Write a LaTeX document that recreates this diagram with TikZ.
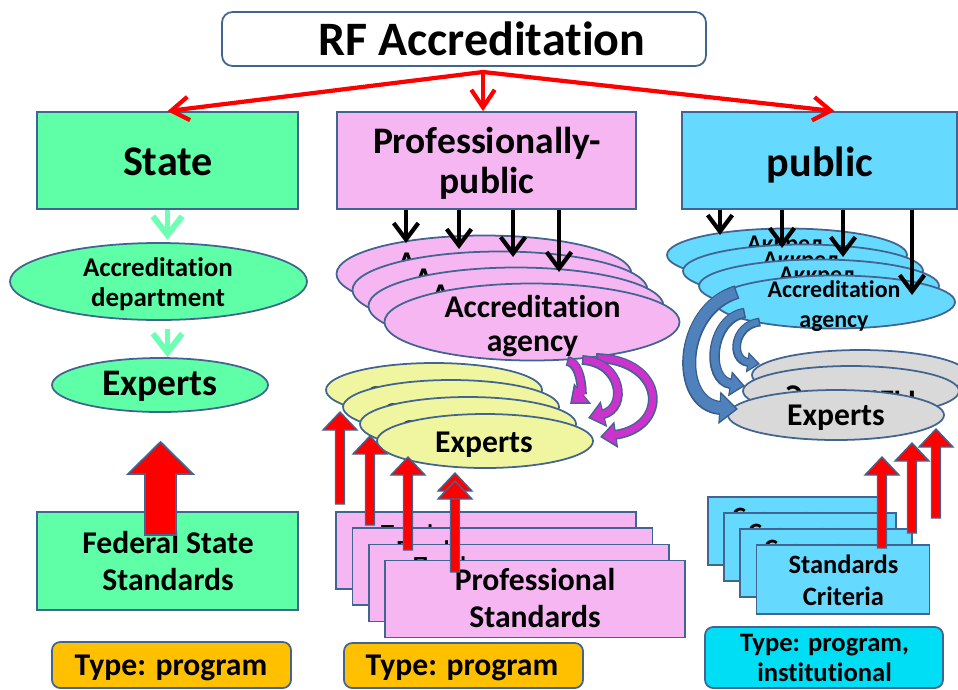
\documentclass[tikz,border=0pt]{standalone}
\usepackage{fontspec}
\setmainfont{Carlito}[Ligatures={NoCommon}]
\usetikzlibrary{arrows.meta,shapes.geometric,calc}

\definecolor{edge}{RGB}{65,100,145}
\definecolor{mint}{RGB}{94,255,166}
\definecolor{mintarrow}{RGB}{110,255,180}
\definecolor{pinkfill}{RGB}{245,182,242}
\definecolor{skyfill}{RGB}{102,217,255}
\definecolor{yellowfill}{RGB}{240,245,160}
\definecolor{greyfill}{RGB}{217,217,217}
\definecolor{orangefill}{RGB}{255,192,0}
\definecolor{cyanfill}{RGB}{0,222,245}
\definecolor{magentaarrow}{RGB}{204,51,204}
\definecolor{steelarrow}{RGB}{79,129,189}
\definecolor{steeledge}{RGB}{56,93,138}

% thin red block arrow pointing up: x, tip y, foot y
\newcommand\thinup[3]{%
  \draw[upblk] (#1-4.5,#3) -- (#1-4.5,#2+18) -- (#1-17,#2+18) -- (#1,#2)
    -- (#1+17,#2+18) -- (#1+4.5,#2+18) -- (#1+4.5,#3) -- cycle;}

\begin{document}
\begin{tikzpicture}[x=0.03cm, y=-0.03cm,
  dims/.style 2 args={minimum width=#1*0.03cm, minimum height=#2*0.03cm},
  outlined/.style={draw=edge, line width=1.5pt, inner sep=0pt},
  ell/.style={outlined, ellipse},
  plate/.style={outlined, rectangle},
  tag/.style={outlined, rectangle, rounded corners=7pt},
  lbl/.style 2 args={inner sep=0pt, align=center, font=\fontsize{#1}{#2}\selectfont\bfseries},
  redline/.style={draw=red, line width=3.6pt, -{Straight Barb[length=15pt,width=20pt]}},
  blackarr/.style={draw=black, line width=3.6pt, -{Straight Barb[length=14pt,width=21pt]}},
  mintarr/.style={draw=mintarrow, line width=5pt, -{Straight Barb[length=16pt,width=25pt]}},
  upblk/.style={draw=edge, line width=1.2pt, fill=red, line join=miter},
  curveout/.style n args={4}{draw=#1, line width=#2, -{Triangle[length=#3,width=#4]}},
  curvein/.style n args={4}{draw=#1, line width=#2, shorten >=2pt, shorten <=1.3pt,
    -{Triangle[length=#3,width=#4]}},
]
\useasboundingbox (0,0) rectangle (958,689);
\clip (0,0) rectangle (958,689);

% ---------- title ----------
\node[tag, fill=white, dims={484}{54}, rounded corners=9pt] (title) at (464,39) {};
\node[lbl={41}{46}, anchor=base] (titletext) at (482,55) {RF Accreditation};

% ---------- three kinds of accreditation ----------
\node[plate, fill=mint, dims={261}{97}] (state) at (167.5,160.5) {};
\node[lbl={36}{40}, anchor=base] at (168,175) {State};
\node[plate, fill=pinkfill, dims={299}{97}] (pro) at (486.5,160.5) {};
\node[lbl={32}{34}] at (487,163) {Professionally-\\public};
\node[plate, fill=skyfill, dims={275}{97}] (pub) at (819.5,160.5) {};
\node[lbl={36}{40}, anchor=base] at (820,176) {public};

\coordinate (split) at (483,72);
\draw[redline] (split) -- (state.north);
\draw[redline] (split) -- (pro.north -| split);
\draw[redline] (split) -- ($(pub.north)+(15,0)$);

% ---------- state column ----------
\node[ell, fill=mint, dims={297}{77}] (dept) at (158.5,281.5) {};
\node[lbl={23}{25.5}] at (158,284) {Accreditation\\department};
\node[ell, fill=mint, dims={216}{54}] (lexp) at (160,385) {};
\node[lbl={32}{36}, anchor=base] at (160,395) {Experts};
\draw[mintarr, shorten >=2pt] (state.south) -- (state.south |- dept.north);
\draw[mintarr] ($(state.south |- dept.south)+(0,8)$) -- (state.south |- lexp.north);

\node[plate, fill=mint, dims={261}{98}] (fss) at (167.5,561) {};
\node[lbl={27}{31.5}] at (168,561) {Federal State\\Standards};
\draw[upblk, line width=1.5pt] (145,535) -- (145,474) -- (128,474) -- (160.5,442)
  -- (193,474) -- (176,474) -- (176,535) -- cycle;
\node[tag, fill=orangefill, dims={239}{46}] (typeA) at (171.5,665) {};
\node[lbl={27}{30}, anchor=base] at (171,675) {Type: program};

% ---------- professional-public column ----------
\node[ell, fill=pinkfill, dims={295}{77}] (agA) at (484,274) {};
\node[lbl={27}{29}, anchor=base west] at (397,273) {Аккред};
\node[ell, fill=pinkfill, dims={295}{77}] (agB) at (500,290) {};
\node[lbl={27}{29}, anchor=base west] at (414,289) {Аккред};
\node[ell, fill=pinkfill, dims={295}{77}] (agC) at (516,306) {};
\node[lbl={27}{29}, anchor=base west] at (431,305) {Аккред};
\node[ell, fill=pinkfill, dims={295}{77}] (agD) at (532,322) {};
\node[lbl={27}{29}] at (532.5,326) {Accreditation\\agency};

\coordinate (mt1) at (406,243);
\coordinate (mt2) at (459,249);
\coordinate (mt3) at (513,257);
\coordinate (mt4) at (559,272);
\foreach \t in {mt1,mt2,mt3,mt4} \draw[blackarr] (pro.south -| \t) -- (\t);

\node[ell, fill=yellowfill, dims={216}{54}] (exA) at (434,390) {};
\node[lbl={27}{30}, anchor=base] at (434,407) {Эксперты};
\node[ell, fill=yellowfill, dims={216}{54}] (exB) at (451,407) {};
\node[lbl={27}{30}, anchor=base] at (451,424) {Эксперты};
\node[ell, fill=yellowfill, dims={216}{54}] (exC) at (468,424) {};
\node[lbl={27}{30}, anchor=base] at (468,441) {Эксперты};
\node[ell, fill=yellowfill, dims={216}{54}] (exD) at (485,441) {};
\node[lbl={27}{30}, anchor=base] at (484,452) {Experts};

% agency hands work to its experts
\coordinate (ms1) at (567,361); \coordinate (me1) at (570,404);
\coordinate (ms2) at (582,360); \coordinate (me2) at (588,418);
\coordinate (ms3) at (596,358); \coordinate (me3) at (600,437);
\foreach \s/\e/\ca/\cb in {ms3/me3/670/670, ms2/me2/640/640, ms1/me1/615/612} {
  \draw[curveout={edge}{8.4pt}{14pt}{22pt}]
    (\s) .. controls ($(\s)+(\ca-600,2)$) and ($(\e)+(\cb-600,-10)$) .. (\e);
  \draw[curvein={magentaarrow}{5.8pt}{11pt}{17pt}]
    (\s) .. controls ($(\s)+(\ca-600,2)$) and ($(\e)+(\cb-600,-10)$) .. (\e);
}

\node[plate, fill=pinkfill, dims={300}{77}] (psA) at (486,550.5) {};
\node[lbl={21}{25}, anchor=base] at (486,541) {Профессиональные};
\node[plate, fill=pinkfill, dims={300}{77}] (psB) at (502.5,566.5) {};
\node[lbl={21}{25}, anchor=base] at (502.5,557) {Профессиональные};
\node[plate, fill=pinkfill, dims={300}{77}] (psC) at (519,583) {};
\node[lbl={21}{25}, anchor=base] at (519,573) {Профессиональные};
\node[plate, fill=pinkfill, dims={300}{77}] (psD) at (535,599) {};
\node[lbl={27}{32}] at (535,598) {Professional\\Standards};

\thinup{340}{412}{504}
\thinup{370}{436}{525}
\thinup{408}{457}{550}
\thinup{455}{473}{572}
\draw[upblk] (455-17,481+18) -- (455,481) -- (455+17,481+18) -- cycle;

\node[tag, fill=orangefill, dims={239}{45}] (typeB) at (463.5,665.5) {};
\node[lbl={27}{30}, anchor=base] at (462,675) {Type: program};

% ---------- public column ----------
\node[ell, fill=skyfill, dims={240}{53}] (poA) at (787,255) {};
\node[lbl={20.4}{25}, anchor=base west] at (747,251) {Аккред};
\node[ell, fill=skyfill, dims={240}{53}] (poB) at (803,271) {};
\node[lbl={20.4}{25}, anchor=base west] at (763,267) {Аккред};
\node[ell, fill=skyfill, dims={240}{53}] (poC) at (819,286) {};
\node[lbl={20.4}{25}, anchor=base west] at (779,282) {Аккред};
\node[ell, fill=skyfill, dims={240}{53}] (poD) at (835,302) {};
\node[lbl={20.4}{25.5}] at (834,306.5) {Accreditation\\agency};

\coordinate (pt1) at (720,235);
\coordinate (pt2) at (782,248);
\coordinate (pt3) at (843,257);
\coordinate (pt4) at (912,295);
\foreach \t in {pt1,pt2,pt3,pt4} \draw[blackarr] (pub.south -| \t) -- (\t);

\node[ell, fill=greyfill, dims={216}{50}] (geA) at (860,375) {};
\node[lbl={27}{30}, anchor=base] at (860,390) {Эксперты};
\node[ell, fill=greyfill, dims={216}{50}] (geB) at (851,391) {};
\node[lbl={27}{30}, anchor=base] at (851,406) {Эксперты};
\node[ell, fill=greyfill, dims={216}{50}] (geC) at (836,415) {};
\node[lbl={27}{30}, anchor=base] at (836,425) {Experts};

\coordinate (bs1) at (737,292); \coordinate (be1) at (738,409);
\coordinate (bs2) at (745,313); \coordinate (be2) at (745,386);
\coordinate (bs3) at (760,322); \coordinate (be3) at (760,364);
\draw[curveout={steeledge}{12pt}{16pt}{27pt}] (bs1) .. controls (678,310) and (675,405) .. (be1);
\draw[curvein={steelarrow}{9.5pt}{13pt}{22pt}] (bs1) .. controls (678,310) and (675,405) .. (be1);
\draw[curveout={steeledge}{9pt}{13pt}{21pt}] (bs2) .. controls (710,318) and (705,380) .. (be2);
\draw[curvein={steelarrow}{6.5pt}{10pt}{16pt}] (bs2) .. controls (710,318) and (705,380) .. (be2);
\draw[curveout={steeledge}{7.5pt}{11pt}{17pt}] (bs3) .. controls (733,325) and (730,360) .. (be3);
\draw[curvein={steelarrow}{5pt}{8pt}{13pt}] (bs3) .. controls (733,325) and (730,360) .. (be3);

\node[plate, fill=skyfill, dims={172}{68}] (scA) at (794,531) {};
\node[lbl={22.6}{27}, anchor=base] at (794,525) {Стандарты};
\node[plate, fill=skyfill, dims={172}{68}] (scB) at (810,547) {};
\node[lbl={22.6}{27}, anchor=base] at (810,541) {Стандарты};
\node[plate, fill=skyfill, dims={172}{68}] (scC) at (826,563) {};
\node[lbl={22.6}{27}, anchor=base] at (826,557) {Стандарты};
\node[plate, fill=skyfill, dims={173}{69}] (scD) at (843,579.5) {};
\node[lbl={22.6}{27}] at (843.5,580) {Standards\\Criteria};

\thinup{882}{457}{548}
\thinup{912}{443}{533}
\thinup{936}{429}{518}

\node[tag, fill=cyanfill, dims={238}{61}] (typeC) at (824,657.5) {};
\node[lbl={22.7}{26}] at (824.5,658) {Type: program,\\institutional};
\end{tikzpicture}
\end{document}
